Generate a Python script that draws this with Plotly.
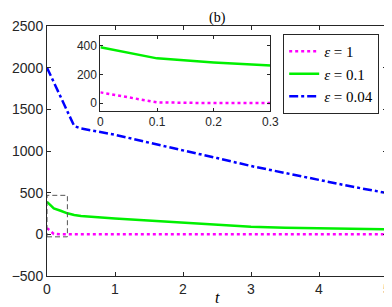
import plotly.graph_objects as go

t = [0, 0.1, 0.2, 0.3, 0.4, 0.5, 1, 1.5, 2, 2.5, 3, 3.5, 4, 4.5, 5]
eps1 = [75, 5, 0, 0, 0, 0, 0, 0, 0, 0, 0, 0, 0, 0, 0]
eps01 = [390, 312, 283, 252, 232, 220, 190, 165, 140, 112, 92, 80, 72, 66, 62]
eps004 = [2000, 1830, 1650, 1470, 1300, 1270, 1195, 1100, 1010, 915, 820, 735, 650, 570, 495]
names = ["<i>ε</i> = 1", "<i>ε</i> = 0.1", "<i>ε</i> = 0.04"]
main_yticks = [-500, 0, 500, 1000, 1500, 2000, 2500]
main_xticks = [0, 1, 2, 3, 4, 5]
inset_xticks = [0, 0.1, 0.2, 0.3]
inset_yticks = [0, 200, 400]
zoom_box = dict(x0=0, x1=0.3, y0=-30, y1=468)

styles = [
    dict(color="#ff00ff", width=2.5, dash="dot"),
    dict(color="#00f000", width=2.5, dash="solid"),
    dict(color="#0000ff", width=2.5, dash="dashdot"),
]
series = [eps1, eps01, eps004]

fig = go.Figure()
for s, nm, st in zip(series, names, styles):
    fig.add_trace(go.Scatter(x=t, y=s, mode="lines", name=nm, line=st,
                             xaxis="x", yaxis="y"))
# inset
for s, st in zip(series[:2], styles[:2]):
    fig.add_trace(go.Scatter(x=t, y=s, mode="lines", line=st, showlegend=False,
                             xaxis="x2", yaxis="y2"))

axc = "#262626"
tickfont = dict(family="Liberation Sans, Arial", size=14, color=axc)
insetfont = dict(family="Liberation Sans, Arial", size=12, color=axc)
common = dict(showgrid=False, zeroline=False, showline=True, linecolor=axc,
              linewidth=1, mirror="ticks", ticks="inside",
              tickcolor=axc, tickwidth=1)

fig.update_layout(
    width=392, height=307,
    margin=dict(l=38, r=4, t=18, b=39),
    paper_bgcolor="white", plot_bgcolor="white",
    xaxis=dict(range=[0, 5], tickvals=main_xticks, tickfont=tickfont, domain=[0, 1], ticklen=4, **common),
    yaxis=dict(range=[-500, 2500], tickvals=main_yticks, tickfont=tickfont, domain=[0, 1], ticklen=4, **common),
    xaxis2=dict(range=[0, 0.3], tickvals=inset_xticks, tickfont=insetfont,
                domain=[0.157, 0.657], anchor="y2", ticklen=3, **common),
    yaxis2=dict(range=[-55, 468], tickvals=inset_yticks, tickfont=insetfont,
                domain=[0.66, 0.96], anchor="x2", ticklen=3, **common),
    showlegend=True,
    legend=dict(x=0.977, y=0.968, xanchor="right", yanchor="top",
                bgcolor="white", bordercolor=axc, borderwidth=1,
                font=dict(family="Liberation Serif, DejaVu Serif", size=15, color="black"),
                tracegroupgap=0),
    shapes=[dict(type="rect", xref="x", yref="y", line=dict(color="#555555", width=1, dash="5px,3px"),
                 fillcolor="rgba(0,0,0,0)", **zoom_box)],
    annotations=[
        dict(text="(b)", x=(213 - 38) / 350, y=1, yanchor="bottom", yshift=-2,
             xref="paper", yref="paper", showarrow=False,
             font=dict(family="Liberation Serif, DejaVu Serif", size=14, color="black")),
        dict(text="<i>t</i>", x=2.5, y=0, xref="x", yref="paper", yshift=-32, showarrow=False,
             font=dict(family="Liberation Serif, DejaVu Serif", size=16, color="black")),
    ],
)
fig.write_html("out.html")
